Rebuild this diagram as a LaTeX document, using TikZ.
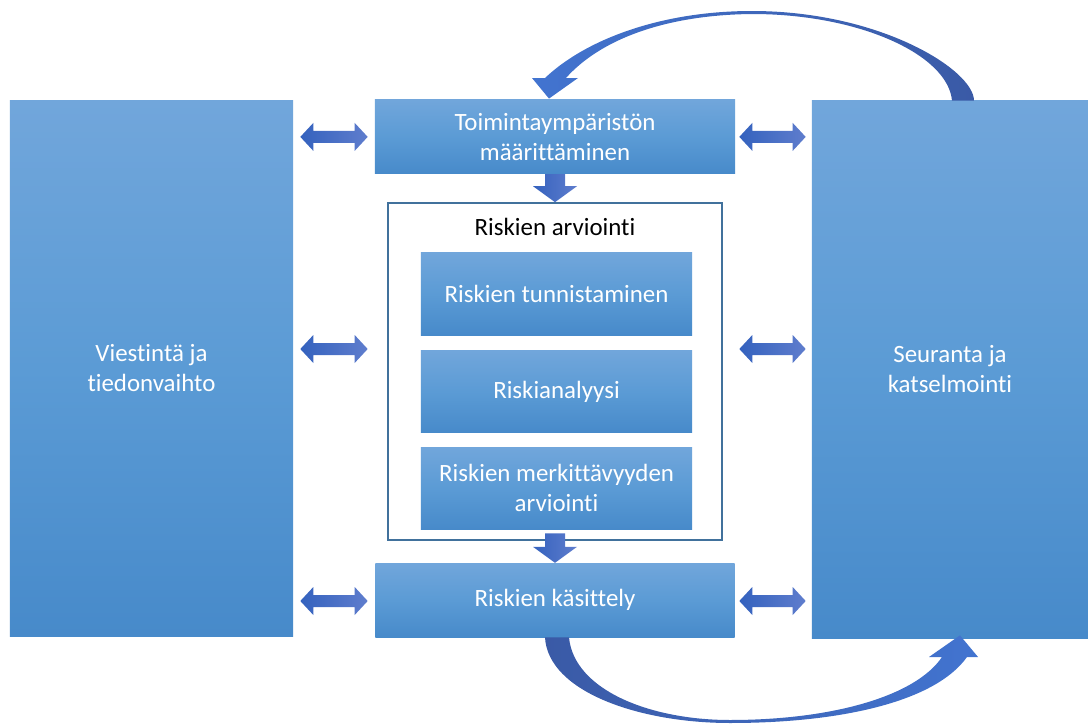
\documentclass[tikz,border=0pt]{standalone}
\usepackage{fontspec}
\setmainfont{Carlito}[Ligatures=NoCommon]
\usepackage{tikz}
\usetikzlibrary{calc}
\usetikzlibrary{positioning}
\definecolor{boxtop}{RGB}{113,166,219}
\definecolor{boxmid}{RGB}{91,155,213}
\definecolor{boxbot}{RGB}{71,138,202}
\definecolor{frameblue}{RGB}{65,113,156}
\definecolor{arrl}{RGB}{52,98,190}
\definecolor{arrr}{RGB}{95,125,205}
\definecolor{curvebright}{RGB}{66,116,208}
\definecolor{curvedark}{RGB}{58,90,166}
\tikzset{
  blbox/.style={shade, top color=boxtop, bottom color=boxbot, middle color=boxmid,
    text=white, align=center, inner sep=0pt, font=\fontsize{17.7}{21.3}\selectfont},
  frame/.style={draw=frameblue, fill=white, line width=1.1pt, inner sep=0pt}
}
\newcommand{\dblarrow}[2]{%
  \shade[left color=arrl, right color=arrr]
    (#1) -- ++(13,-14) -- ++(0,8) -- ($(#2)+(-13,-6)$) -- ++(0,-8) -- (#2)
    -- ++(-13,14) -- ++(0,-8) -- ($(#1)+(13,6)$) -- ++(0,8) -- cycle;}
\newcommand{\dnarrow}[2]{%
  \shade[left color=arrl, right color=arrr]
    ($(#1)+(-10,0)$) -- ($(#2)+(-10,-16)$) -- ++(-12,0) -- (#2)
    -- ++(22,-16) -- ++(-12,0) -- ($(#1)+(10,0)$) -- cycle;}

\begin{document}
\begin{tikzpicture}[x=0.025cm, y=-0.025cm]
    \useasboundingbox (0,0) rectangle (1088,724);

    \node[blbox, minimum width=7.075cm, minimum height=13.375cm] (vt) at (151.5,368.5) {Viestintä ja\\tiedonvaihto};
    \node[blbox, minimum width=6.9cm, minimum height=13.425cm] (sk) at (950,369.5) {Seuranta ja\\katselmointi};
    \node[frame, minimum width=8.35cm, minimum height=8.425cm] (ra) at (555,371.5) {};
    \node[font=\fontsize{17.7}{21.3}\selectfont] (ralab) at ($(ra.north)+(0,25)$) {Riskien arviointi};
    \node[blbox, minimum width=6.775cm, minimum height=2.05cm] (t1) at (556.5,294) {Riskien tunnistaminen};
    \node[blbox, minimum width=6.775cm, minimum height=2.05cm, below=0.375cm of t1] (t2) {Riskianalyysi};
    \node[blbox, minimum width=6.775cm, minimum height=2.05cm, below=0.35cm of t2] (t3) {Riskien merkittävyyden\\arviointi};
    \node[blbox, minimum width=9cm, minimum height=1.85cm, above=0.7cm of ra] (tm) {Toimintaympäristön\\määrittäminen};
    \node[blbox, minimum width=8.975cm, minimum height=1.85cm, below=0.55cm of ra] (rk) {Riskien käsittely};

    \coordinate (l1a) at ($(vt.east |- tm.west)+(7,0)$);
    \coordinate (l1b) at ($(tm.west)+(-7,0)$);
    \coordinate (l2a) at ($(vt.east |- 0,349)+(7,0)$);
    \coordinate (l2b) at ($(tm.west |- 0,349)+(-7,0)$);
    \coordinate (l3a) at ($(vt.east |- 0,601)+(7,0)$);
    \coordinate (l3b) at ($(tm.west |- 0,601)+(-7,0)$);
    \coordinate (r1a) at ($(tm.east)+(4,0)$);
    \coordinate (r1b) at ($(sk.west |- tm.east)+(-6,0)$);
    \coordinate (r2a) at ($(tm.east |- 0,349)+(4,0)$);
    \coordinate (r2b) at ($(sk.west |- 0,349)+(-6,0)$);
    \coordinate (r3a) at ($(tm.east |- 0,601)+(4,0)$);
    \coordinate (r3b) at ($(sk.west |- 0,601)+(-6,0)$);
    \dblarrow{l1a}{l1b}
    \dblarrow{l2a}{l2b}
    \dblarrow{l3a}{l3b}
    \dblarrow{r1a}{r1b}
    \dblarrow{r2a}{r2b}
    \dblarrow{r3a}{r3b}

    \coordinate (d1a) at (tm.south);
    \coordinate (d1b) at (tm.south |- ra.north);
    \coordinate (d2a) at ($(rk.north |- t3.south)+(0,4)$);
    \coordinate (d2b) at (rk.north);
    \dnarrow{d1a}{d1b}
    \dnarrow{d2a}{d2b}

    \shade[left color=curvebright, right color=curvedark]
      ($(sk.north)+(24,0)$) .. controls (974,70) and (880,11) .. (752,11)
      .. controls (660,11) and (585,40) .. (545,78)
      -- (532,78) -- ($(tm.north)+(-6,-1)$) -- (578,78) -- (566,78)
      .. controls (598,42) and (660,15) .. (752,14)
      .. controls (860,14) and (948,55) .. ($(sk.north)+(2,0)$) -- cycle;
    \shade[left color=curvedark, right color=curvebright]
      ($(rk.south)+(-10,0)$) .. controls (548,692) and (640,723) .. (730,723)
      .. controls (840,723) and (935,702) .. (967,657)
      -- (978,657) -- ($(sk.south)+(10,-3)$) -- (929,657) -- (942,657)
      .. controls (915,697) and (830,720) .. (730,720)
      .. controls (650,720) and (574,690) .. ($(rk.south)+(14,0)$) -- cycle;
\end{tikzpicture}
\end{document}
